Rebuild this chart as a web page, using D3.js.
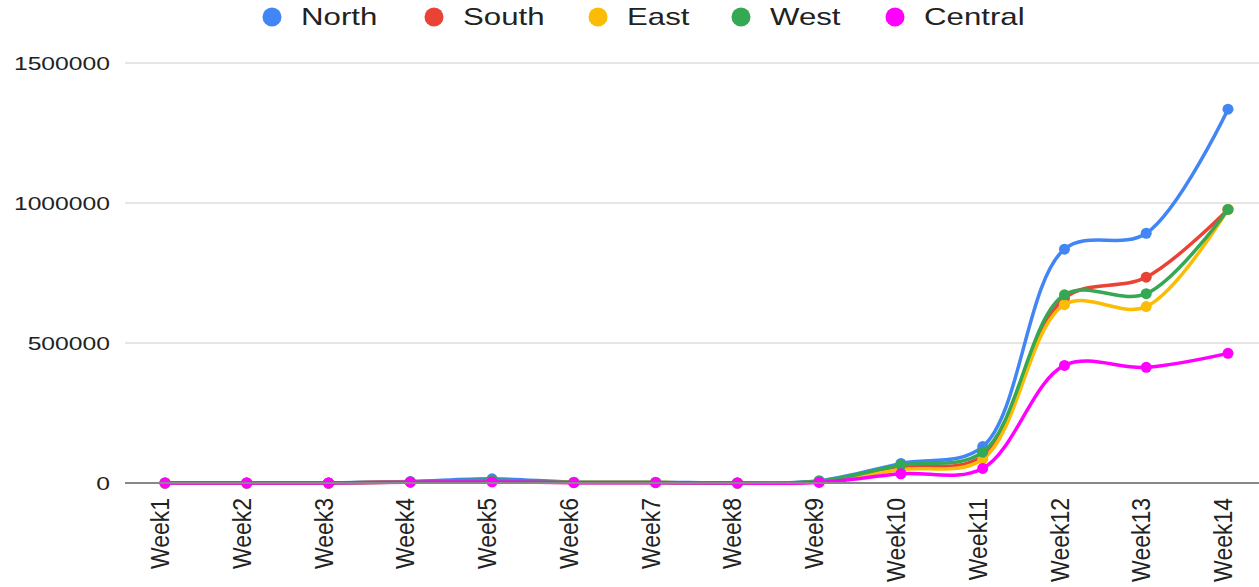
<!DOCTYPE html>
<html>
<head>
<meta charset="utf-8">
<script src="https://cdn.jsdelivr.net/npm/d3@7"></script>
<style>
  html, body { margin: 0; padding: 0; background: #fff; }
  svg { display: block; font-family: Arial, "Liberation Sans", sans-serif; }
</style>
</head>
<body>
<svg id="chart" width="1259" height="587"></svg>
<script>
// Weekly totals per region
const weeks = ["Week1","Week2","Week3","Week4","Week5","Week6","Week7","Week8","Week9","Week10","Week11","Week12","Week13","Week14"];
const north   = [0, 0, 0, 5000, 15000, 3000, 3000, 0, 8000, 70000, 130000, 835000, 892000, 1335000];
const south   = [0, 0, 0, 4000, 8000, 2000, 2000, 0, 5000, 55000, 97000, 660000, 735000, 977000];
const east    = [0, 0, 0, 3000, 6000, 2000, 2000, 0, 4000, 48000, 85000, 637000, 630000, 977000];
const west    = [0, 0, 0, 4000, 10000, 2000, 2000, 0, 6000, 64000, 110000, 672000, 676000, 977000];
const central = [0, 0, 0, 3000, 4000, 1000, 1000, 0, 2000, 33000, 52000, 420000, 413000, 463000];
const seriesNames = ["North", "South", "East", "West", "Central"];
const colors = ["#4285F4", "#EA4335", "#FBBC04", "#34A853", "#FF00FF"];
const yTicks = [0, 500000, 1000000, 1500000];

const series = [north, south, east, west, central].map((vals, i) => ({
  name: seriesNames[i], color: colors[i], values: vals
}));

// Text is drawn slightly widened
const stretch = 1.3;

const svg = d3.select("#chart");
const plotLeft = 125, plotRight = 1259, plotTop = 63, plotBottom = 483;

const x = d3.scalePoint().domain(weeks).range([165, 1228]);
const y = d3.scaleLinear().domain([0, 1500000]).range([plotBottom, plotTop]);

// Horizontal gridlines
svg.append("g").selectAll("line").data(yTicks.filter(d => d > 0)).join("line")
  .attr("x1", plotLeft).attr("x2", plotRight)
  .attr("y1", d => y(d)).attr("y2", d => y(d))
  .attr("stroke", "#cccccc").attr("stroke-width", 1);

// Y axis labels
const yAxis = d3.axisLeft(y).tickValues(yTicks).tickFormat(d3.format("d")).tickSize(0).tickPadding(0);
const yg = svg.append("g").attr("transform", `translate(${plotLeft - 15},0)`).call(yAxis);
yg.select(".domain").remove();
yg.selectAll("text")
  .attr("x", 0)
  .attr("font-size", 19).attr("fill", "#222").attr("dy", "0.35em")
  .attr("transform", `scale(${stretch},1)`);

// Line series
const line = d3.line()
  .x((d, i) => x(weeks[i]))
  .y(d => y(d))
  .curve(d3.curveCatmullRom.alpha(0.5));

const sg = svg.append("g");
series.forEach(s => {
  sg.append("path").datum(s.values)
    .attr("d", line)
    .attr("fill", "none")
    .attr("stroke", s.color)
    .attr("stroke-width", 3.5);
  sg.append("g").selectAll("circle").data(s.values).join("circle")
    .attr("cx", (d, i) => x(weeks[i]))
    .attr("cy", d => y(d))
    .attr("r", 5.5)
    .attr("fill", s.color);
});

// Baseline
svg.append("line")
  .attr("x1", plotLeft).attr("x2", plotRight)
  .attr("y1", plotBottom).attr("y2", plotBottom)
  .attr("stroke", "#888").attr("stroke-width", 2);

// X axis labels, rotated
const xAxis = d3.axisBottom(x).tickSize(0).tickPadding(0);
const xg = svg.append("g").attr("transform", `translate(0,${plotBottom})`).call(xAxis);
xg.select(".domain").remove();
xg.selectAll("text")
  .attr("font-size", 23)
  .attr("fill", "#222")
  .attr("text-anchor", "end")
  .attr("x", -15)
  .attr("y", 0)
  .attr("dy", "0.3em")
  .attr("transform", "translate(-4,0) scale(1.1,1) rotate(-90)");

// Legend
const legendX = [272, 434, 598, 741, 895];
const lg = svg.append("g");
series.forEach((s, i) => {
  const g = lg.append("g").attr("transform", `translate(${legendX[i]},17)`);
  g.append("circle").attr("r", 9.5).attr("fill", s.color);
  g.append("text").attr("dy", "0.35em")
    .attr("transform", `translate(29,0) scale(${stretch},1)`)
    .attr("font-size", 24).attr("fill", "#222").text(s.name);
});
</script>
</body>
</html>
